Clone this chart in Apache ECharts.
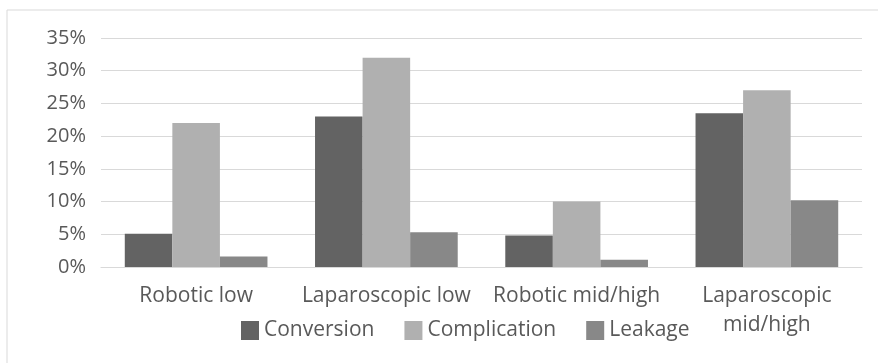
<!DOCTYPE html>
<html>
<head>
<meta charset="utf-8">
<script src="https://cdn.jsdelivr.net/npm/echarts@6/dist/echarts.min.js"></script>
<style>html,body{margin:0;padding:0;background:#fff}#c{width:878px;height:363px}</style>
</head>
<body>
<div id="c"></div>
<script>
const categories = ['Robotic low', 'Laparoscopic low', 'Robotic mid/high', 'Laparoscopic mid/high'];
const conversion = [5.1, 23.0, 4.8, 23.5];
const complication = [22.0, 32.0, 10.0, 27.0];
const leakage = [1.6, 5.3, 1.1, 10.2];
const yTicks = [0, 5, 10, 15, 20, 25, 30, 35];

const FONT = '"Open Sans", "Noto Sans", sans-serif';
const TXT = '#595959';
const chart = echarts.init(document.getElementById('c'), null, {renderer: 'canvas'});
chart.setOption({
  animation: false,
  backgroundColor: '#fff',
  textStyle: {fontFamily: FONT},
  graphic: [{
    type: 'rect', shape: {x: 7, y: 10, width: 900, height: 400},
    style: {fill: 'none', stroke: '#d9d9d9', lineWidth: 1}, silent: true, z: -1
  }],
  grid: {left: 101, right: 16, top: 38, bottom: 96, containLabel: false},
  legend: {
    data: ['Conversion', 'Complication', 'Leakage'],
    left: 241, top: 320, padding: 0,
    icon: 'rect', itemWidth: 18, itemHeight: 19, itemGap: 30,
    textStyle: {color: TXT, fontSize: 21, fontFamily: FONT}
  },
  xAxis: {
    type: 'category', data: categories,
    axisLine: {show: true, lineStyle: {color: '#d9d9d9', width: 1.2}},
    axisTick: {show: false},
    axisLabel: {
      color: TXT, fontSize: 21, fontFamily: FONT, margin: 15, lineHeight: 29, interval: 0,
      formatter: v => v.length > 18 ? v.replace(/ (?=[^ ]*$)/, '\n') : v
    }
  },
  yAxis: {
    type: 'value', min: yTicks[0], max: yTicks[yTicks.length - 1], interval: 5,
    axisLine: {show: false}, axisTick: {show: false},
    splitLine: {lineStyle: {color: '#d9d9d9', width: 1.2}},
    axisLabel: {color: TXT, fontSize: 20, fontFamily: FONT, margin: 15, formatter: v => v + '%'}
  },
  series: [
    {name: 'Conversion', type: 'bar', data: conversion, itemStyle: {color: '#636363'}, barGap: '0%', barCategoryGap: '25%'},
    {name: 'Complication', type: 'bar', data: complication, itemStyle: {color: '#b0b0b0'}, barGap: '0%', barCategoryGap: '25%'},
    {name: 'Leakage', type: 'bar', data: leakage, itemStyle: {color: '#888888'}, barGap: '0%', barCategoryGap: '25%'}
  ]
});
</script>
</body>
</html>
